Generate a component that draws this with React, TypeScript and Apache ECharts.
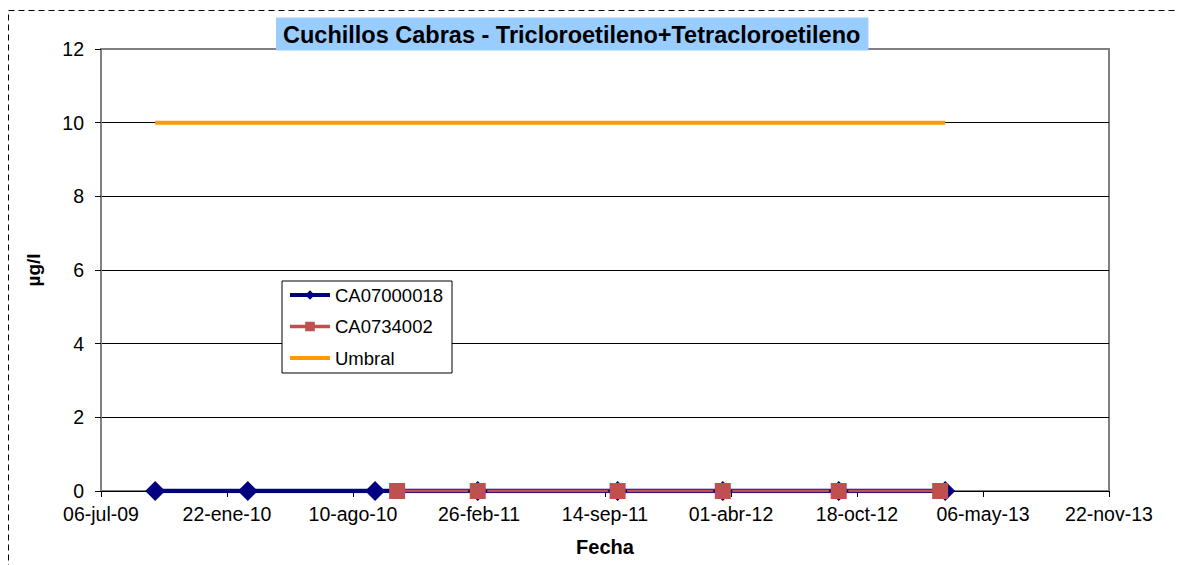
import React, { useEffect, useRef } from "react";
import * as echarts from "echarts";

const originDate = "2009-07-06";
const xTickLabels = ["06-jul-09", "22-ene-10", "10-ago-10", "26-feb-11", "14-sep-11", "01-abr-12", "18-oct-12", "06-may-13", "22-nov-13"];
const xTickStepDays = 200;

const blueName = "CA07000018";
const blueDates = ["2009-09-30", "2010-02-24", "2010-09-14", "2011-02-24", "2011-10-04", "2012-03-19", "2012-09-19", "2013-03-07"];
const blueValues = [0, 0, 0, 0, 0, 0, 0, 0];

const redName = "CA0734002";
const redDates = ["2010-10-19", "2011-02-24", "2011-10-04", "2012-03-19", "2012-09-19", "2013-02-27"];
const redValues = [0, 0, 0, 0, 0, 0];

const umbralName = "Umbral";
const umbralDates = ["2009-09-30", "2013-03-07"];
const umbralValues = [10, 10];

const titleText = "Cuchillos Cabras - Tricloroetileno+Tetracloroetileno";

const DAY = 86400000;
const toDays = (d: string) => (Date.parse(d + "T00:00:00Z") - Date.parse(originDate + "T00:00:00Z")) / DAY;
const pairs = (dates: string[], vals: number[]) => dates.map((d, i) => [toDays(d), vals[i]]);

const FONT = "'Liberation Sans', Arial, sans-serif";

export default function App() {
  const ref = useRef<HTMLDivElement>(null);
  useEffect(() => {
    if (!ref.current) return;
    const chart = echarts.init(ref.current, null, { renderer: "svg" });
    chart.setOption({
      animation: false,
      backgroundColor: "#ffffff",
      textStyle: { fontFamily: FONT },
      title: {
        text: titleText,
        left: 276,
        top: 18,
        padding: [5, 8, 4, 7],
        backgroundColor: "#99CCFF",
        textStyle: { fontSize: 23.5, fontWeight: "bold", color: "#000", fontFamily: FONT, lineHeight: 23 },
      },
      legend: {
        orient: "vertical",
        left: 282,
        top: 281,
        padding: [4.5, 9, 5.5, 6],
        itemGap: 12.5,
        itemWidth: 40,
        itemHeight: 12,
        borderColor: "#000",
        borderWidth: 1,
        backgroundColor: "#fff",
        textStyle: { fontSize: 18.5, color: "#000", fontFamily: FONT },
        data: [
          { name: blueName, lineStyle: { width: 4 } },
          { name: redName, lineStyle: { width: 3.5 } },
          { name: umbralName, lineStyle: { width: 4 }, itemStyle: { opacity: 0 } },
        ],
      },
      grid: { left: 101, right: 69, top: 49, bottom: 74, show: true, borderColor: "#808080", borderWidth: 2, outerBoundsMode: "none", containLabel: false },
      xAxis: {
        type: "value",
        min: 0,
        max: xTickStepDays * (xTickLabels.length - 1),
        interval: xTickStepDays,
        name: "Fecha",
        nameLocation: "middle",
        nameGap: 46,
        nameTextStyle: { fontSize: 20, fontWeight: "bold", color: "#000", fontFamily: FONT },
        axisLine: { show: true, onZero: false, lineStyle: { color: "#000", width: 1 } },
        axisTick: { show: true, inside: false, length: 6, lineStyle: { color: "#000" } },
        splitLine: { show: false },
        axisLabel: {
          fontSize: 19.5,
          color: "#000",
          margin: 13,
          fontFamily: FONT,
          formatter: (v: number) => xTickLabels[Math.round(v / xTickStepDays)] ?? "",
        },
      },
      yAxis: {
        type: "value",
        min: 0,
        max: 12,
        interval: 2,
        name: "µg/l",
        nameLocation: "middle",
        nameRotate: 90,
        nameGap: 58,
        nameTextStyle: { fontSize: 19, fontWeight: "bold", color: "#000", fontFamily: FONT },
        axisLine: { show: true, onZero: false, lineStyle: { color: "#808080", width: 2 } },
        axisTick: { show: true, inside: false, length: 6, lineStyle: { color: "#000" } },
        splitLine: { show: true, showMinLine: false, showMaxLine: false, lineStyle: { color: "#000", width: 1 } },
        axisLabel: { fontSize: 19.5, color: "#000", margin: 17, fontFamily: FONT },
      },
      graphic: [
        {
          type: "rect",
          silent: true,
          z: -10,
          shape: { x: 8.5, y: 10.5, width: 1200, height: 600 },
          style: { fill: "none", stroke: "#000", lineWidth: 1, lineDash: [6, 4] },
        },
      ],
      series: [
        {
          name: blueName,
          type: "line",
          data: pairs(blueDates, blueValues),
          color: "#000080",
          lineStyle: { width: 4.5, color: "#000080" },
          itemStyle: { color: "#000080" },
          symbol: "diamond",
          symbolSize: 20,
          showAllSymbol: true,
        },
        {
          name: redName,
          type: "line",
          data: pairs(redDates, redValues),
          color: "#C0504D",
          lineStyle: { width: 3, color: "#C0504D" },
          itemStyle: { color: "#C0504D" },
          symbol: "rect",
          symbolSize: 16,
          showAllSymbol: true,
        },
        {
          name: umbralName,
          type: "line",
          data: pairs(umbralDates, umbralValues),
          color: "#FF9900",
          lineStyle: { width: 4, color: "#FF9900" },
          itemStyle: { color: "#FF9900" },
          symbol: "none",
        },
      ],
    });
    return () => chart.dispose();
  }, []);
  return <div ref={ref} style={{ position: "fixed", left: 0, top: 0, width: 1178, height: 565 }} />;
}
